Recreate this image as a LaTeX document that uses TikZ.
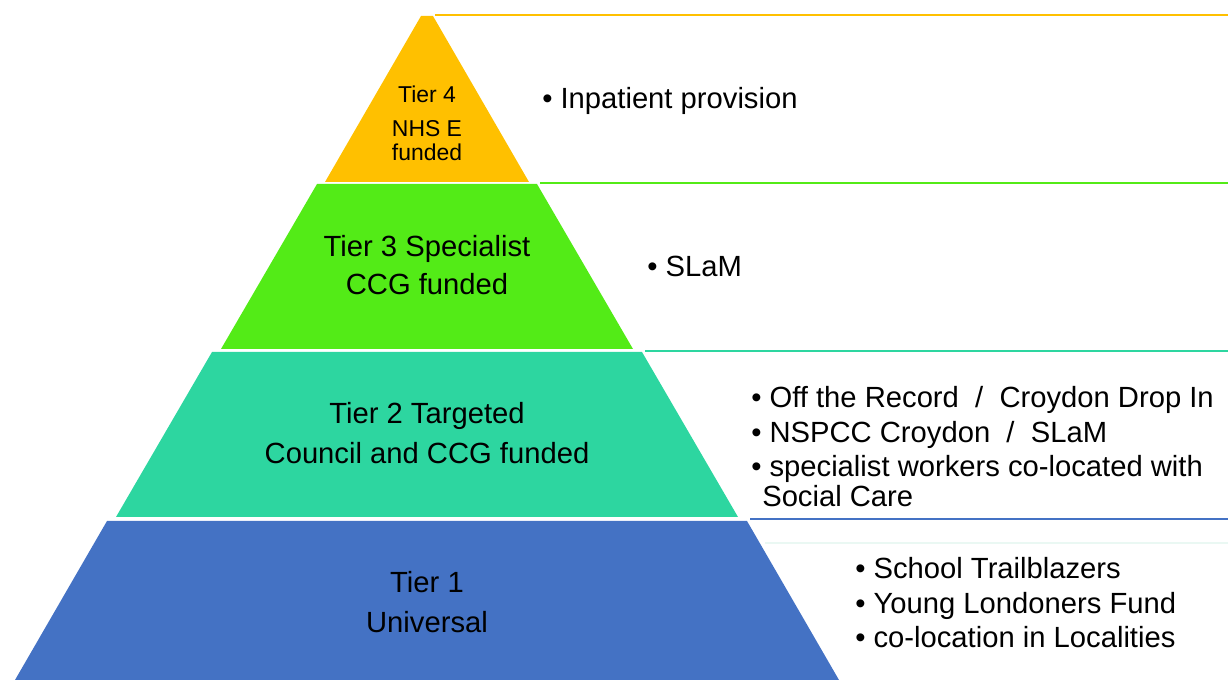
\documentclass[tikz,border=0pt]{standalone}
\usepackage{fontspec}
\setmainfont{Liberation Sans}
\definecolor{tierfour}{HTML}{FFC000}
\definecolor{tierthree}{HTML}{53EB17}
\definecolor{tiertwo}{HTML}{2DD6A0}
\definecolor{tierone}{HTML}{4472C4}
\definecolor{faintrule}{HTML}{EAF8F3}
\tikzset{
	rule/.style={line width=1.5pt},
	tiertext/.style={anchor=base, inner sep=0pt},
	itemtext/.style={anchor=base west, inner sep=0pt}
}
\begin{document}
\begin{tikzpicture}[x=0.75pt, y=-0.75pt, line join=round, font=\fontsize{21.9}{26}\selectfont]
	\useasboundingbox (0,0) rectangle (1228,680);
	\pgfmathsetmacro{\cx}{427}
	% the four bands of the pyramid
	\fill[tierfour] (\cx-6,16) -- (\cx+6,16) -- (\cx+102,182) -- (\cx-102,182) -- cycle;
	\fill[tierthree] (\cx-110,184) -- (\cx+110,184) -- (\cx+206,349) -- (\cx-206,349) -- cycle;
	\fill[tiertwo] (\cx-215,352) -- (\cx+215,352) -- (\cx+311,517) -- (\cx-311,517) -- cycle;
	\fill[tierone] (\cx-320,521) -- (\cx+320,521) -- (\cx+412,680) -- (\cx-412,680) -- cycle;
	
	\draw[rule, tierfour] (435,15) -- (1228,15);
	\draw[rule, tierthree] (540,183) -- (1228,183);
	\draw[rule, tiertwo] (645,351) -- (1228,351);
	\draw[rule, tierone] (750,519) -- (1228,519);
	\draw[rule, faintrule] (765,543) -- (1228,543);
	
	\begin{scope}[font=\fontsize{17.2}{20}\selectfont]
		\node[tiertext] (fourA) at (\cx,103) {Tier 4};
		\node[tiertext] (fourB) at (\cx,137) {NHS E};
		\node[tiertext] (fourC) at (\cx,161) {funded};
	\end{scope}
	\node[tiertext] (threeA) at (\cx,257) {Tier 3 Specialist};
	\node[tiertext] (threeB) at (\cx,295) {CCG funded};
	\node[tiertext] (twoA) at (\cx,424) {Tier 2 Targeted};
	\node[tiertext] (twoB) at (\cx,464) {Council and CCG funded};
	\node[tiertext] (oneA) at (\cx,592) {Tier 1};
	\node[tiertext] (oneB) at (\cx,632) {Universal};
	
	\node[itemtext] (inpatient) at (542,109) {\textbullet\ Inpatient provision};
	\node[itemtext] (slam) at (647,277) {\textbullet\ SLaM};
	\node[itemtext] (record) at (751,408) {\textbullet\ Off the Record~~/~~Croydon Drop In};
	\node[itemtext] (nspcc) at (751,443) {\textbullet\ NSPCC Croydon~~/~~SLaM};
	\node[itemtext] (workers) at (751,477) {\textbullet\ specialist workers co-located with};
	\node[itemtext] (social) at (762,507) {Social Care};
	\node[itemtext] (school) at (855,578) {\textbullet\ School Trailblazers};
	\node[itemtext] (londoners) at (855,613) {\textbullet\ Young Londoners Fund};
	\node[itemtext] (locality) at (855,647) {\textbullet\ co-location in Localities};
\end{tikzpicture}
\end{document}
